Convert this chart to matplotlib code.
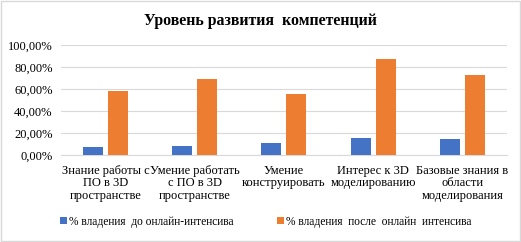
import matplotlib
matplotlib.use("Agg")
import matplotlib.pyplot as plt
import numpy as np
from matplotlib.ticker import FuncFormatter
from matplotlib.patches import Rectangle

categories = ["Знание работы с\nПО в 3D\nпространстве",
              "Умение работать\nс ПО в 3D\nпространстве",
              "Умение\nконструировать",
              "Интерес к 3D\nмоделированию",
              "Базовые знания в\nобласти\nмоделирования"]
before = [7.5, 8.5, 11.2, 15.7, 14.5]
after = [58.5, 69.0, 55.5, 87.3, 72.7]
series_names = ["% владения  до онлайн-интенсива", "% владения  после  онлайн  интенсива"]

plt.rcParams['font.family'] = ['Liberation Serif', 'DejaVu Serif']

fig = plt.figure(figsize=(5.21, 2.42), dpi=100)
ax = fig.add_axes([0.117, 0.36, 0.856, 0.454])
x = np.arange(len(categories))
w = 0.224
off = 0.14
b1 = ax.bar(x - off, before, w, color='#4472C4', label=series_names[0], zorder=3)
b2 = ax.bar(x + off, after, w, color='#ED7D31', label=series_names[1], zorder=3)
ax.set_ylim(0, 100)
ax.set_xlim(-0.5, len(categories) - 0.5)
ax.set_yticks(np.arange(0, 101, 20))
ax.yaxis.set_major_formatter(FuncFormatter(lambda v, p: f"{v:.2f}%".replace('.', ',')))
ax.grid(axis='y', color='#D9D9D9', linewidth=0.8, zorder=0)
for s in ['top', 'right', 'left']:
    ax.spines[s].set_visible(False)
ax.spines['bottom'].set_color('#D9D9D9')
ax.tick_params(axis='both', length=0, labelsize=9, colors='#000000')
ax.tick_params(axis='y', pad=6)
ax.tick_params(axis='x', pad=7)
ax.set_xticks(x)
ax.set_xticklabels(categories, fontsize=9, linespacing=1.05)
fig.text(0.5, 0.912, "Уровень развития  компетенций", ha='center', va='center',
         fontsize=11.4, fontweight='bold')
fig.legend(handles=[b1, b2], loc='center', bbox_to_anchor=(0.51, 0.084), ncol=2,
           frameon=False, fontsize=8.3, handlelength=0.6, handleheight=0.6,
           columnspacing=3.8, handletextpad=0.15)
fig.patches.append(Rectangle((0.002, 0.004), 0.996, 0.992, transform=fig.transFigure,
                             fill=False, edgecolor='#D9D9D9', linewidth=1))
fig.savefig("out.png", dpi=100)
